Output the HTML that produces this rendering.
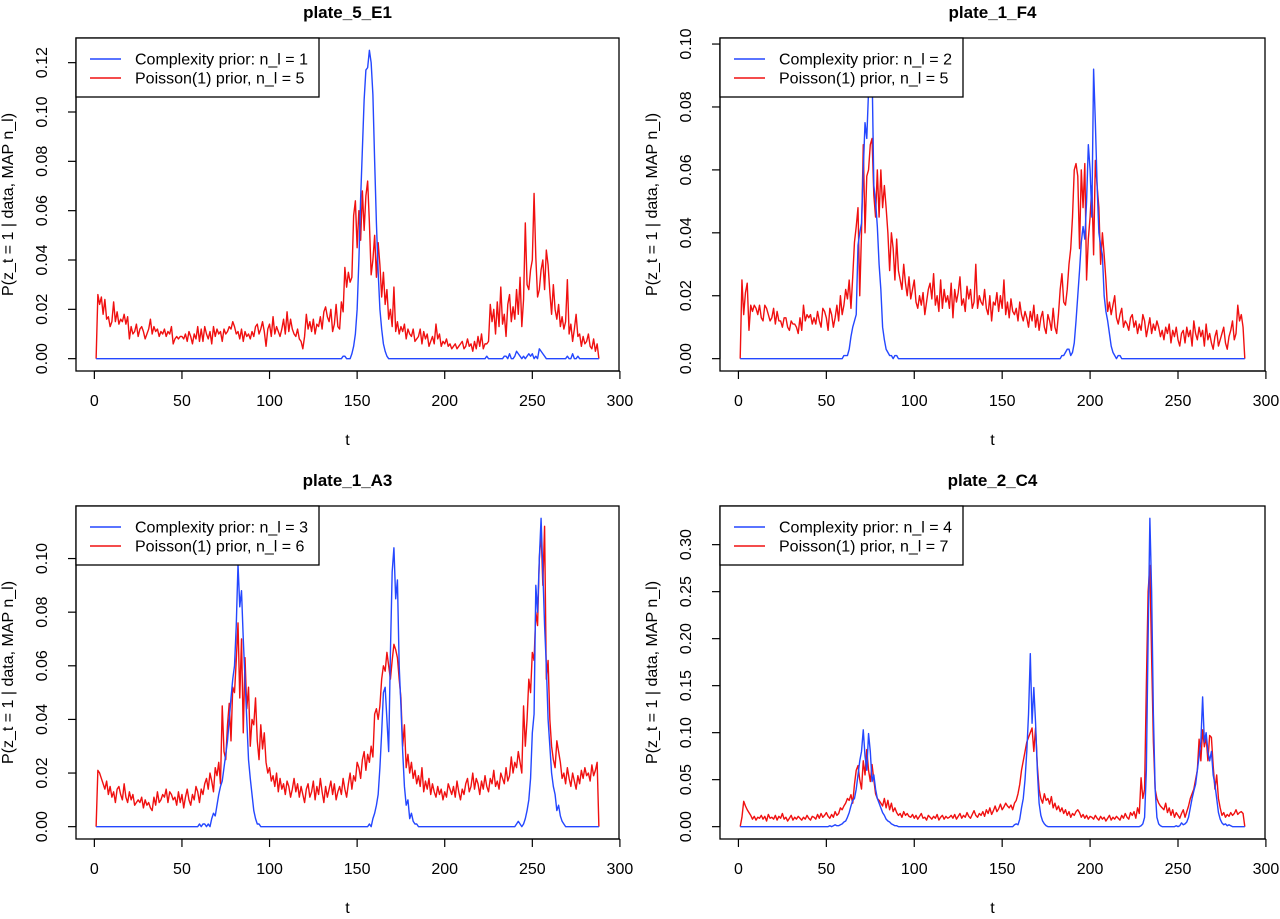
<!DOCTYPE html>
<html><head><meta charset="utf-8"><style>
html,body{margin:0;padding:0;background:#fff;}
svg{display:block;font-family:"Liberation Sans",Arial,sans-serif;}
</style></head><body>
<svg id="chart" width="1280" height="919" viewBox="0 0 1280 919" xmlns="http://www.w3.org/2000/svg"></svg>
<script>
// values in thousandths (0.001 units), t = 1..288, 20 values per line
const p1Blue=[
0,0,0,0,0,0,0,0,0,0,0,0,0,0,0,0,0,0,0,0,
0,0,0,0,0,0,0,0,0,0,0,0,0,0,0,0,0,0,0,0,
0,0,0,0,0,0,0,0,0,0,0,0,0,0,0,0,0,0,0,0,
0,0,0,0,0,0,0,0,0,0,0,0,0,0,0,0,0,0,0,0,
0,0,0,0,0,0,0,0,0,0,0,0,0,0,0,0,0,0,0,0,
0,0,0,0,0,0,0,0,0,0,0,0,0,0,0,0,0,0,0,0,
0,0,0,0,0,0,0,0,0,0,0,0,0,0,0,0,0,0,0,0,
0,1,1,0,0,0,2,5,10,20,40,65,85,105,117,118,125,120,107,80,
55,35,20,12,6,3,1,0,0,0,0,0,0,0,0,0,0,0,0,0,
0,0,0,0,0,0,0,0,0,0,0,0,0,0,0,0,0,0,0,0,
0,0,0,0,0,0,0,0,0,0,0,0,0,0,0,0,0,0,0,0,
0,0,0,1,0,0,0,0,0,0,0,0,0,1,1,0,2,0,0,1,
3,2,1,0,1,0,1,2,1,2,0,1,0,4,3,2,1,0,0,0,
0,0,0,0,0,0,0,0,0,1,0,0,2,0,0,1,0,0,0,0,
0,0,0,0,0,0,0,0];
const p1Red=[
0,26,22,25,18,24,16,17,13,15,23,15,19,14,16,15,18,14,17,8,
13,10,11,14,9,12,13,11,8,10,12,16,10,13,11,12,9,11,10,12,
9,11,10,13,6,8,9,8,9,9,8,10,7,11,9,6,10,8,13,7,
12,7,13,10,8,11,6,13,9,12,10,11,7,12,10,11,13,12,15,13,
10,11,8,12,7,11,9,10,8,11,9,13,14,10,12,15,11,5,12,14,
9,17,10,13,11,9,12,16,10,19,11,16,12,10,9,12,8,7,4,9,
18,12,15,11,16,10,14,13,17,12,19,21,17,15,20,11,14,22,13,12,
23,19,37,29,35,31,33,58,64,45,60,48,68,52,66,72,55,34,40,50,
33,47,38,25,35,22,28,16,20,13,29,11,15,10,13,11,14,8,12,10,
9,12,7,8,9,12,6,11,8,10,5,7,9,6,14,8,10,5,7,6,
8,5,6,4,5,6,4,5,6,7,4,5,8,5,6,3,7,4,9,5,
10,4,6,6,7,22,15,20,10,23,13,29,14,18,9,22,26,15,21,16,
28,18,33,13,24,55,30,28,36,40,67,41,25,28,36,40,28,44,38,27,
18,30,20,16,22,13,17,12,15,32,10,14,7,12,18,9,10,5,9,6,
7,10,5,4,8,3,6,0];
const p2Blue=[
0,0,0,0,0,0,0,0,0,0,0,0,0,0,0,0,0,0,0,0,
0,0,0,0,0,0,0,0,0,0,0,0,0,0,0,0,0,0,0,0,
0,0,0,0,0,0,0,0,0,0,0,0,0,0,0,0,0,0,0,1,
1,1,3,7,10,12,14,36,40,43,60,75,70,85,98,92,55,50,42,30,
22,10,6,3,2,1,1,0,1,1,0,0,0,0,0,0,0,0,0,0,
0,0,0,0,0,0,0,0,0,0,0,0,0,0,0,0,0,0,0,0,
0,0,0,0,0,0,0,0,0,0,0,0,0,0,0,0,0,0,0,0,
0,0,0,0,0,0,0,0,0,0,0,0,0,0,0,0,0,0,0,0,
0,0,0,0,0,0,0,0,0,0,0,0,0,0,0,0,0,0,0,0,
0,0,0,1,1,2,3,3,1,2,5,12,20,28,37,42,38,50,68,60,
45,92,75,55,40,36,33,20,15,12,8,4,2,1,0,1,1,0,0,0,
0,0,0,0,0,0,0,0,0,0,0,0,0,0,0,0,0,0,0,0,
0,0,0,0,0,0,0,0,0,0,0,0,0,0,0,0,0,0,0,0,
0,0,0,0,0,0,0,0,0,0,0,0,0,0,0,0,0,0,0,0,
0,0,0,0,0,0,0,0];
const p2Red=[
0,25,14,21,24,9,17,15,17,16,14,17,13,12,17,16,14,12,13,16,
11,15,12,12,10,13,13,10,9,12,11,11,10,8,13,9,17,12,14,13,
14,11,13,11,15,12,10,16,15,13,9,16,14,10,13,17,12,20,14,17,
22,19,25,16,26,37,42,48,20,40,68,40,58,60,68,70,52,45,60,45,
60,48,55,48,40,28,40,35,25,38,28,25,22,30,24,20,26,19,22,25,
18,16,20,17,21,14,18,22,24,19,27,17,20,15,25,16,22,18,20,16,
24,13,22,18,21,26,17,19,15,23,19,22,16,18,30,16,20,18,17,22,
16,14,20,12,18,17,21,15,20,16,25,14,18,13,19,15,14,16,12,18,
14,12,15,13,10,15,12,17,10,14,9,13,15,10,8,14,12,9,16,10,
8,14,22,27,18,17,22,30,35,45,60,62,58,35,60,48,62,25,38,45,
55,33,63,55,48,30,40,33,25,15,18,14,17,20,13,11,14,16,10,12,
11,9,13,14,10,12,8,11,9,14,12,7,10,13,8,11,9,12,10,7,
9,6,10,8,11,5,9,7,10,6,4,8,9,5,10,7,9,4,12,8,
6,10,7,9,4,11,6,8,5,3,7,9,4,6,8,10,5,3,7,9,
12,6,8,17,12,14,10,0];
const p3Blue=[
0,0,0,0,0,0,0,0,0,0,0,0,0,0,0,0,0,0,0,0,
0,0,0,0,0,0,0,0,0,0,0,0,0,0,0,0,0,0,0,0,
0,0,0,0,0,0,0,0,0,0,0,0,0,0,0,0,0,0,0,1,
0,1,1,0,1,0,3,5,4,8,12,15,17,22,27,32,40,48,55,60,
75,98,82,88,70,55,40,25,18,12,6,3,1,1,0,0,0,0,0,0,
0,0,0,0,0,0,0,0,0,0,0,0,0,0,0,0,0,0,0,0,
0,0,0,0,0,0,0,0,0,0,0,0,0,0,0,0,0,0,0,0,
0,0,0,0,0,0,0,0,0,0,0,0,0,0,0,0,1,0,3,5,
8,12,22,35,50,52,40,28,65,95,104,85,92,60,45,28,15,8,10,3,
5,2,1,1,0,0,0,0,0,0,0,0,0,0,0,0,0,0,0,0,
0,0,0,0,0,0,0,0,0,0,0,0,0,0,0,0,0,0,0,0,
0,0,0,0,0,0,0,0,0,0,0,0,0,0,0,0,0,0,0,0,
1,2,1,0,1,3,6,10,18,35,42,90,80,100,115,95,75,60,40,30,
20,15,12,6,8,4,2,1,0,0,0,0,0,0,0,0,0,0,0,0,
0,0,0,0,0,0,0,0];
const p3Red=[
0,21,20,18,16,14,17,12,15,11,13,9,14,15,12,10,16,11,9,13,
10,12,8,9,10,9,11,7,10,8,9,7,6,11,8,13,9,10,12,11,
14,9,13,12,10,11,8,13,9,12,7,11,14,10,8,12,10,15,13,9,
14,12,16,18,14,20,17,13,22,19,24,16,45,28,25,38,46,32,52,50,
62,76,48,70,35,63,44,52,30,40,38,48,32,25,38,29,35,24,20,22,
17,19,15,20,13,18,14,16,12,17,15,11,14,18,13,16,11,15,12,9,
14,16,11,13,17,10,15,12,18,13,9,15,11,14,17,12,16,10,13,15,
12,18,14,11,16,20,14,19,17,24,22,18,25,28,21,27,24,30,26,42,
44,40,45,55,60,58,65,60,55,62,68,66,63,55,48,30,38,22,27,20,
24,18,21,16,19,15,22,13,17,14,18,12,16,13,11,15,12,14,10,13,
11,16,14,12,15,11,17,13,10,14,12,16,18,13,15,20,14,18,16,12,
17,14,19,15,13,18,16,21,15,17,14,20,18,16,22,17,19,26,20,24,
22,28,24,20,45,30,40,55,50,65,62,80,75,100,110,90,112,55,62,40,
30,25,22,32,28,24,18,20,16,22,18,15,20,17,14,19,16,21,18,22,
19,20,17,23,19,21,24,0];
const p4Blue=[
0,0,0,0,0,0,0,0,0,0,0,0,0,0,0,0,0,0,0,0,
0,0,0,0,0,0,0,0,0,0,0,0,0,0,0,0,0,0,0,0,
0,0,0,0,0,0,0,0,0,0,0,1,0,1,2,1,1,2,3,5,
6,10,15,22,28,30,40,55,70,80,103,75,60,99,80,48,55,40,30,25,
20,15,12,8,6,5,3,2,1,1,0,0,0,0,0,0,0,0,0,0,
0,0,0,0,0,0,0,0,0,0,0,0,0,0,0,0,0,0,0,0,
0,0,0,0,0,0,0,0,0,0,0,0,0,0,0,0,0,0,0,0,
0,0,0,0,0,0,0,0,0,0,0,0,0,0,0,0,2,3,2,8,
20,30,50,80,120,184,110,148,110,60,25,12,6,3,1,0,0,0,0,0,
0,0,0,0,0,0,0,0,0,0,0,0,0,0,0,0,0,0,0,0,
0,0,0,0,0,0,0,0,0,0,0,0,0,0,0,0,0,0,0,0,
0,0,0,0,0,0,0,0,1,3,10,60,200,328,250,120,40,10,3,1,
0,0,0,0,0,0,0,0,1,0,1,4,2,3,5,10,20,30,38,45,
60,75,90,138,90,100,80,70,80,55,45,30,15,8,4,2,3,1,2,1,
0,0,0,0,0,0,0,0];
const p4Red=[
0,10,27,22,18,15,12,8,11,7,10,9,12,8,11,6,13,9,10,8,
12,7,11,9,14,8,10,6,9,12,7,10,8,11,9,7,10,8,12,9,
7,11,10,8,13,9,14,10,12,15,11,9,13,10,16,12,14,20,18,22,
25,30,28,34,25,45,60,65,50,40,70,55,82,60,48,66,50,35,30,28,
25,22,30,20,28,18,25,16,20,15,12,14,10,16,12,14,11,10,13,9,
12,8,11,14,9,10,7,12,10,8,11,9,13,7,10,12,8,11,9,10,
12,9,13,8,11,14,9,12,10,15,11,9,13,17,12,10,14,12,16,11,
18,14,20,13,17,22,16,19,24,18,21,25,22,20,23,18,25,28,35,45,
60,70,80,90,95,100,105,80,105,65,40,30,25,35,28,30,24,32,20,25,
18,22,16,20,14,18,12,16,10,14,12,16,18,15,10,13,9,12,8,11,
10,8,12,9,7,11,8,10,6,9,12,7,10,8,11,9,7,12,9,14,
10,8,15,12,16,9,20,14,52,30,40,150,250,278,180,90,40,30,25,22,
20,18,25,15,20,12,18,10,15,12,9,14,18,10,16,22,30,35,40,50,
60,93,70,103,85,95,70,97,95,65,40,55,30,20,12,15,10,13,11,15,
12,14,18,13,15,16,14,0];

const titles=["plate_5_E1","plate_1_F4","plate_1_A3","plate_2_C4"];
const legendBlue=["Complexity prior: n_l = 1","Complexity prior: n_l = 2","Complexity prior: n_l = 3","Complexity prior: n_l = 4"];
const legendRed=["Poisson(1) prior, n_l = 5","Poisson(1) prior, n_l = 5","Poisson(1) prior, n_l = 6","Poisson(1) prior, n_l = 7"];
const xTicks=[0,50,100,150,200,250,300];
const yTicks1=[0,0.02,0.04,0.06,0.08,0.10,0.12];
const yTicks2=[0,0.02,0.04,0.06,0.08,0.10];
const yTicks3=[0,0.02,0.04,0.06,0.08,0.10];
const yTicks4=[0,0.05,0.10,0.15,0.20,0.25,0.30];
const tMin=1, tMax=288;

const NS="http://www.w3.org/2000/svg";
const svg=document.getElementById('chart');
function mk(tag,attrs,parent){const e=document.createElementNS(NS,tag);for(const k in attrs)e.setAttribute(k,attrs[k]);(parent||svg).appendChild(e);return e;}

const panels=[
 {L:76,R:619,T:38,B:371,blue:p1Blue,red:p1Red,yt:yTicks1},
 {L:720,R:1265,T:38,B:371,blue:p2Blue,red:p2Red,yt:yTicks2},
 {L:76,R:619,T:506,B:839,blue:p3Blue,red:p3Red,yt:yTicks3},
 {L:720,R:1265,T:506,B:839,blue:p4Blue,red:p4Red,yt:yTicks4}
];

panels.forEach((p,i)=>{
  const g=mk('g',{});
  
  
  const blueV=p.blue.map(v=>v/1000), redV=p.red.map(v=>v/1000);
  const m=Math.max(...blueV,...redV);
  const span=tMax-tMin;
  const x0=tMin-0.04*span, x1=tMax+0.04*span;
  const y0=-0.04*m, y1=1.04*m;
  const sx=t=>p.L+(t-x0)/(x1-x0)*(p.R-p.L);
  const sy=v=>p.B-(v-y0)/(y1-y0)*(p.B-p.T);
  const cx=(p.L+p.R)/2, cy=(p.T+p.B)/2;
  const tt=mk('text',{x:cx,y:p.T-20,'text-anchor':'middle','font-size':'17','font-weight':'bold',fill:'#000'},g);
  tt.textContent=titles[i];
  
  
  const mkLine=(vals,col,name)=>{
    const d=vals.map((v,k)=>(k?'L':'M')+sx(k+1).toFixed(2)+' '+sy(v).toFixed(2)).join('');
    const pth=mk('path',{d:d,fill:'none',stroke:col,'stroke-width':'1.4','stroke-linejoin':'round'},g);
    
    
  };
  mkLine(redV,'#f01010','poisson-prior-line');
  mkLine(blueV,'#2447ff','complexity-prior-line');
  const box=mk('rect',{x:p.L,y:p.T,width:p.R-p.L,height:p.B-p.T,fill:'none',stroke:'#000','stroke-width':'1.3'},g);
  
  
  const xa=mk('g',{},g);
  
  
  mk('line',{x1:sx(xTicks[0]),x2:sx(xTicks[xTicks.length-1]),y1:p.B,y2:p.B,stroke:'#000','stroke-width':'1.2'},xa);
  xTicks.forEach(t=>{
    mk('line',{x1:sx(t),x2:sx(t),y1:p.B,y2:p.B+8,stroke:'#000','stroke-width':'1.2'},xa);
    const lb=mk('text',{x:sx(t),y:p.B+35,'text-anchor':'middle','font-size':'16',fill:'#000'},xa);
    lb.textContent=t;
    
    
  });
  const xl=mk('text',{x:cx,y:p.B+74,'text-anchor':'middle','font-size':'16',fill:'#000'},g);
  xl.textContent='t';
  
  
  const ya=mk('g',{},g);
  
  
  mk('line',{x1:p.L,x2:p.L,y1:sy(p.yt[0]),y2:sy(p.yt[p.yt.length-1]),stroke:'#000','stroke-width':'1.2'},ya);
  p.yt.forEach(v=>{
    const y=sy(v);
    mk('line',{x1:p.L-8,x2:p.L,y1:y,y2:y,stroke:'#000','stroke-width':'1.2'},ya);
    const lb=mk('text',{x:0,y:0,'text-anchor':'middle','font-size':'16',fill:'#000',transform:`translate(${p.L-29},${y}) rotate(-90)`},ya);
    lb.textContent=v.toFixed(2);
    
    
  });
  const yl=mk('text',{x:0,y:0,'text-anchor':'middle','font-size':'16',fill:'#000',transform:`translate(${p.L-63},${cy}) rotate(-90)`},g);
  yl.textContent='P(z_t = 1 | data, MAP n_l)';
  
  
  const lg=mk('g',{},g);
  
  
  mk('rect',{x:p.L,y:p.T,width:243,height:59,fill:'#fff',stroke:'#000','stroke-width':'1.3'},lg);
  [[legendBlue[i],'#2447ff','legend-entry-complexity'],[legendRed[i],'#f01010','legend-entry-poisson']].forEach((e,k)=>{
    const ly=p.T+21+k*19;
    const en=mk('g',{},lg);
    
    
    mk('line',{x1:p.L+14,x2:p.L+45,y1:ly,y2:ly,stroke:e[1],'stroke-width':'1.5'},en);
    const tx=mk('text',{x:p.L+59,y:ly+5.5,'font-size':'16',fill:'#000'},en);
    tx.textContent=e[0];
  });
});
</script>
</body></html>
